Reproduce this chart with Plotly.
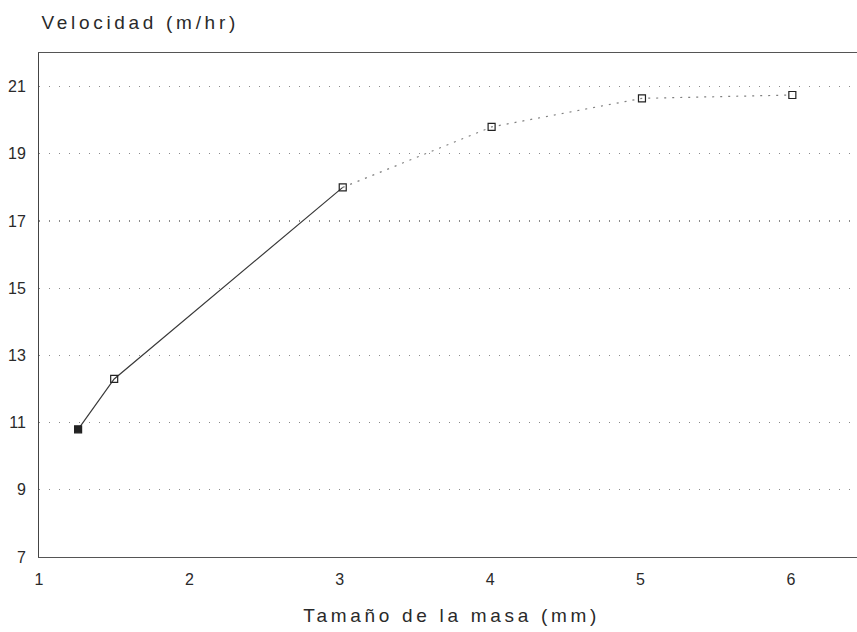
import plotly.graph_objects as go

# Data
size_mm = [1.26, 1.5, 3.02, 4.01, 5.01, 6.01]
speed_mhr = [10.8, 12.3, 18.0, 19.8, 20.65, 20.75]
marker_symbols = ["square", "square-open", "square-open", "square-open", "square-open", "square-open"]
y_ticks = [7, 9, 11, 13, 15, 17, 19, 21]
x_ticks = [1, 2, 3, 4, 5, 6]

font_family = "Liberation Sans, Arial, sans-serif"
ink = "#2a2a2a"

fig = go.Figure()

# Solid first segment
fig.add_trace(go.Scatter(
    x=size_mm[:3], y=speed_mhr[:3], mode="lines",
    line=dict(color="#3a3a3a", width=1.2),
    hoverinfo="skip", showlegend=False,
))
# Faint dotted continuation
fig.add_trace(go.Scatter(
    x=size_mm[2:], y=speed_mhr[2:], mode="lines",
    line=dict(color="#808080", width=1.2, dash="2px,6px"),
    hoverinfo="skip", showlegend=False,
))
# Markers
fig.add_trace(go.Scatter(
    x=size_mm, y=speed_mhr, mode="markers",
    marker=dict(symbol=marker_symbols, size=7, color="#222222",
                line=dict(color="#222222", width=1.2)),
    showlegend=False,
))

fig.update_layout(
    width=857, height=632,
    margin=dict(l=39, r=0, t=53, b=75, autoexpand=False),
    paper_bgcolor="white", plot_bgcolor="white",
    font=dict(family=font_family, color=ink, size=16),
    xaxis=dict(
        range=[1, 6.44], tickvals=x_ticks, ticktext=[str(v) for v in x_ticks],
        showgrid=False, zeroline=False, automargin=False,
        showline=True, linecolor="#555555", linewidth=1, mirror=True,
        ticks="", ticklabelstandoff=8,
        tickfont=dict(size=16, color=ink),
    ),
    yaxis=dict(
        range=[7, 22], tickvals=y_ticks, ticktext=[str(v) for v in y_ticks],
        showgrid=True, gridcolor="#8a8a8a", griddash="1px,9px", gridwidth=1.2,
        zeroline=False, automargin=False,
        showline=True, linecolor="#444444", linewidth=1,
        ticks="", ticklabelstandoff=9,
        tickfont=dict(size=16, color=ink),
    ),
    annotations=[
        dict(text="Velocidad (m/hr)", xref="paper", yref="paper",
             x=0.0, y=1.0, xshift=30, yshift=31, xanchor="left", yanchor="middle",
             showarrow=False, font=dict(size=19, color=ink, family=font_family)),
        dict(text="Tamaño de la masa (mm)", xref="paper", yref="paper",
             x=0.5, y=0, xshift=3, yshift=-58, xanchor="center", yanchor="middle",
             showarrow=False, font=dict(size=19, color=ink, family=font_family)),
    ],
)

page_js = (
    "document.body.style.margin='0';"
    "document.body.style.overflow='hidden';"
    "document.querySelectorAll('.annotation-text').forEach(function(t){"
    "t.style.letterSpacing='3.7px';});"
)

fig.write_html("out.html", post_script=page_js,
               config={"displayModeBar": False, "staticPlot": True})
